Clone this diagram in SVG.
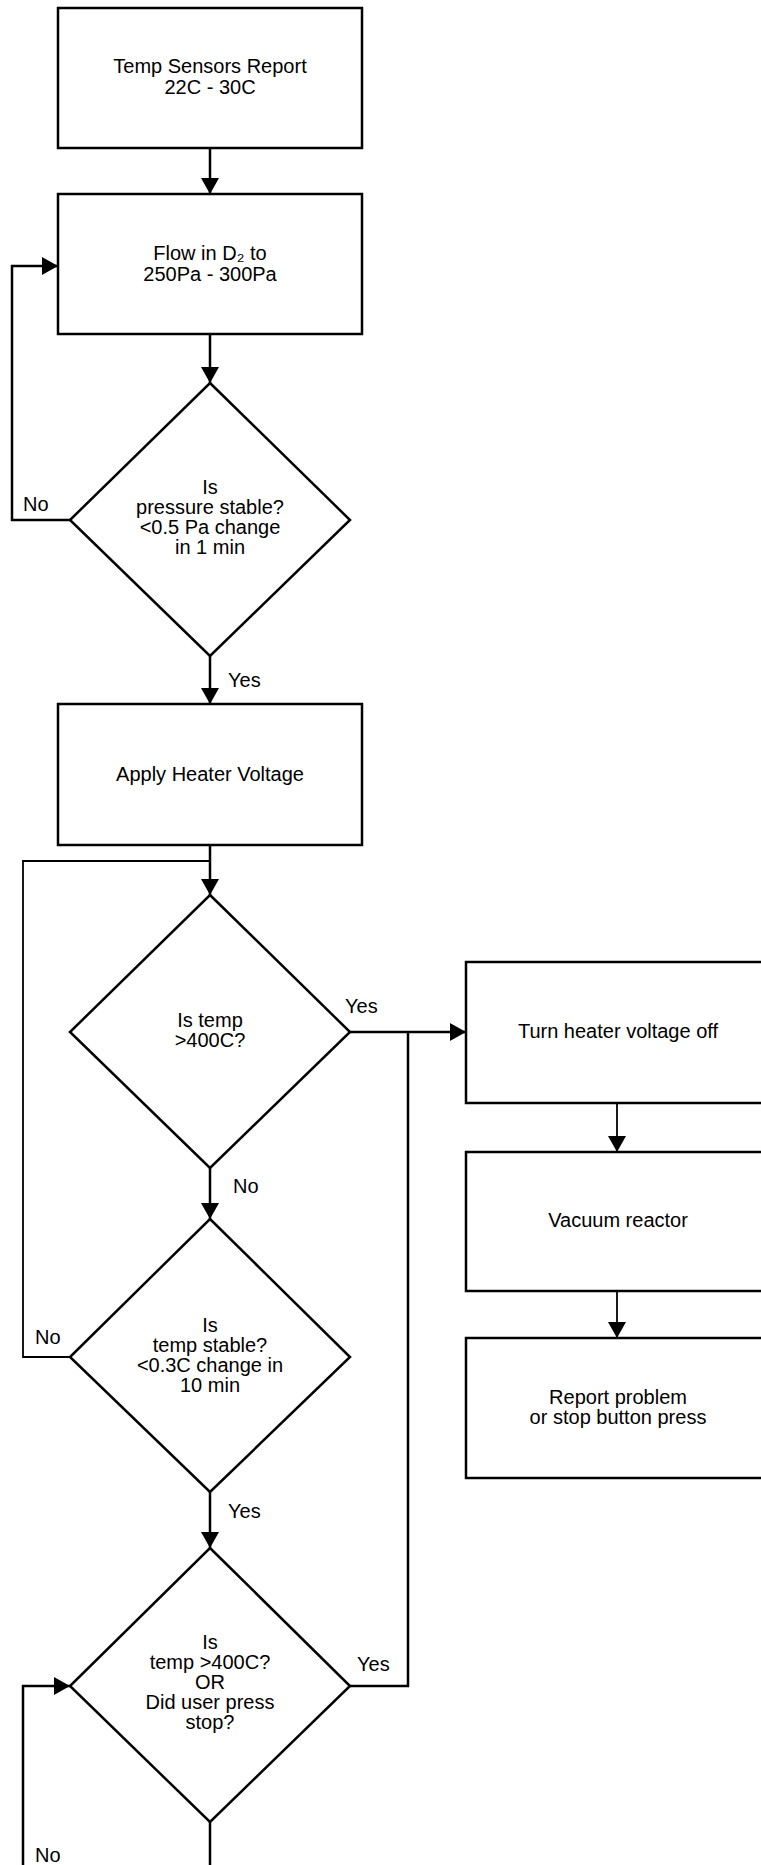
<svg xmlns="http://www.w3.org/2000/svg" width="761" height="1865" viewBox="0 0 761 1865">
<style>
.box{fill:#fff;stroke:#000;stroke-width:2.5}
.dia{fill:#fff;stroke:#000;stroke-width:2.5;stroke-linejoin:miter}
.ln{fill:none;stroke:#000;stroke-width:2.5}
.thin{fill:none;stroke:#000;stroke-width:1.8}
text{font-family:"Liberation Sans",Arial,Helvetica,sans-serif;font-size:20px;fill:#000}
.c{text-anchor:middle}
</style>
<defs>
<marker id="ah" markerUnits="userSpaceOnUse" markerWidth="18" markerHeight="18" refX="16" refY="9" orient="auto">
<path d="M0,0 L16,9 L0,18 Z" fill="#000"/>
</marker>
</defs>
<rect width="761" height="1865" fill="#fff"/>
<g id="connectors">
<line class="ln" x1="210" y1="148" x2="210" y2="194" marker-end="url(#ah)"/>
<line class="ln" x1="210" y1="334" x2="210" y2="383" marker-end="url(#ah)"/>
<polyline class="ln" points="70,520 12,520 12,266 58,266" marker-end="url(#ah)"/>
<line class="ln" x1="210" y1="656" x2="210" y2="704" marker-end="url(#ah)"/>
<line class="ln" x1="210" y1="845" x2="210" y2="895" marker-end="url(#ah)"/>
<polyline class="thin" points="210,861 23,861 23,1357 70,1357"/>
<line class="ln" x1="350" y1="1032" x2="466" y2="1032" marker-end="url(#ah)"/>
<line class="ln" x1="210" y1="1168" x2="210" y2="1219" marker-end="url(#ah)"/>
<line class="ln" x1="210" y1="1492" x2="210" y2="1548" marker-end="url(#ah)"/>
<polyline class="ln" points="350,1686 408,1686 408,1032"/>
<line class="ln" x1="210" y1="1822" x2="210" y2="1866"/>
<polyline class="ln" points="23,1866 23,1686 70,1686" marker-end="url(#ah)"/>
<line class="thin" x1="617" y1="1103" x2="617" y2="1152" marker-end="url(#ah)"/>
<line class="thin" x1="617" y1="1291" x2="617" y2="1338" marker-end="url(#ah)"/>
<text x="23" y="511">No</text>
<text x="228" y="687">Yes</text>
<text x="345" y="1013">Yes</text>
<text x="233" y="1193">No</text>
<text x="35" y="1344">No</text>
<text x="228" y="1518">Yes</text>
<text x="357" y="1671">Yes</text>
<text x="35" y="1862">No</text>
</g>
<g id="n1">
<rect class="box" x="58" y="8" width="304" height="140"/>
<text class="c" x="210" y="73">Temp Sensors Report</text>
<text class="c" x="210" y="94">22C - 30C</text>
</g>
<g id="n2">
<rect class="box" x="58" y="194" width="304" height="140"/>
<text class="c" x="210" y="260">Flow in D₂ to</text>
<text class="c" x="210" y="281">250Pa - 300Pa</text>
</g>
<g id="d1">
<polygon class="dia" points="210,383 350,520 210,656 70,520"/>
<text class="c" x="210" y="494">Is</text>
<text class="c" x="210" y="514">pressure stable?</text>
<text class="c" x="210" y="534">&lt;0.5 Pa change</text>
<text class="c" x="210" y="554">in 1 min</text>
</g>
<g id="n3">
<rect class="box" x="58" y="704" width="304" height="141"/>
<text class="c" x="210" y="781">Apply Heater Voltage</text>
</g>
<g id="d2">
<polygon class="dia" points="210,895 350,1032 210,1168 70,1032"/>
<text class="c" x="210" y="1027">Is temp</text>
<text class="c" x="210" y="1047">&gt;400C?</text>
</g>
<g id="d3">
<polygon class="dia" points="210,1219 350,1357 210,1492 70,1357"/>
<text class="c" x="210" y="1332">Is</text>
<text class="c" x="210" y="1352">temp stable?</text>
<text class="c" x="210" y="1372">&lt;0.3C change in</text>
<text class="c" x="210" y="1392">10 min</text>
</g>
<g id="d4">
<polygon class="dia" points="210,1548 350,1686 210,1822 70,1686"/>
<text class="c" x="210" y="1649">Is</text>
<text class="c" x="210" y="1669">temp &gt;400C?</text>
<text class="c" x="210" y="1689">OR</text>
<text class="c" x="210" y="1709">Did user press</text>
<text class="c" x="210" y="1729">stop?</text>
</g>
<g id="r1">
<rect class="box" x="466" y="962" width="304" height="141"/>
<text class="c" x="618" y="1038">Turn heater voltage off</text>
</g>
<g id="r2">
<rect class="box" x="466" y="1152" width="304" height="139"/>
<text class="c" x="618" y="1227">Vacuum reactor</text>
</g>
<g id="r3">
<rect class="box" x="466" y="1338" width="304" height="140"/>
<text class="c" x="618" y="1404">Report problem</text>
<text class="c" x="618" y="1424">or stop button press</text>
</g>
</svg>
